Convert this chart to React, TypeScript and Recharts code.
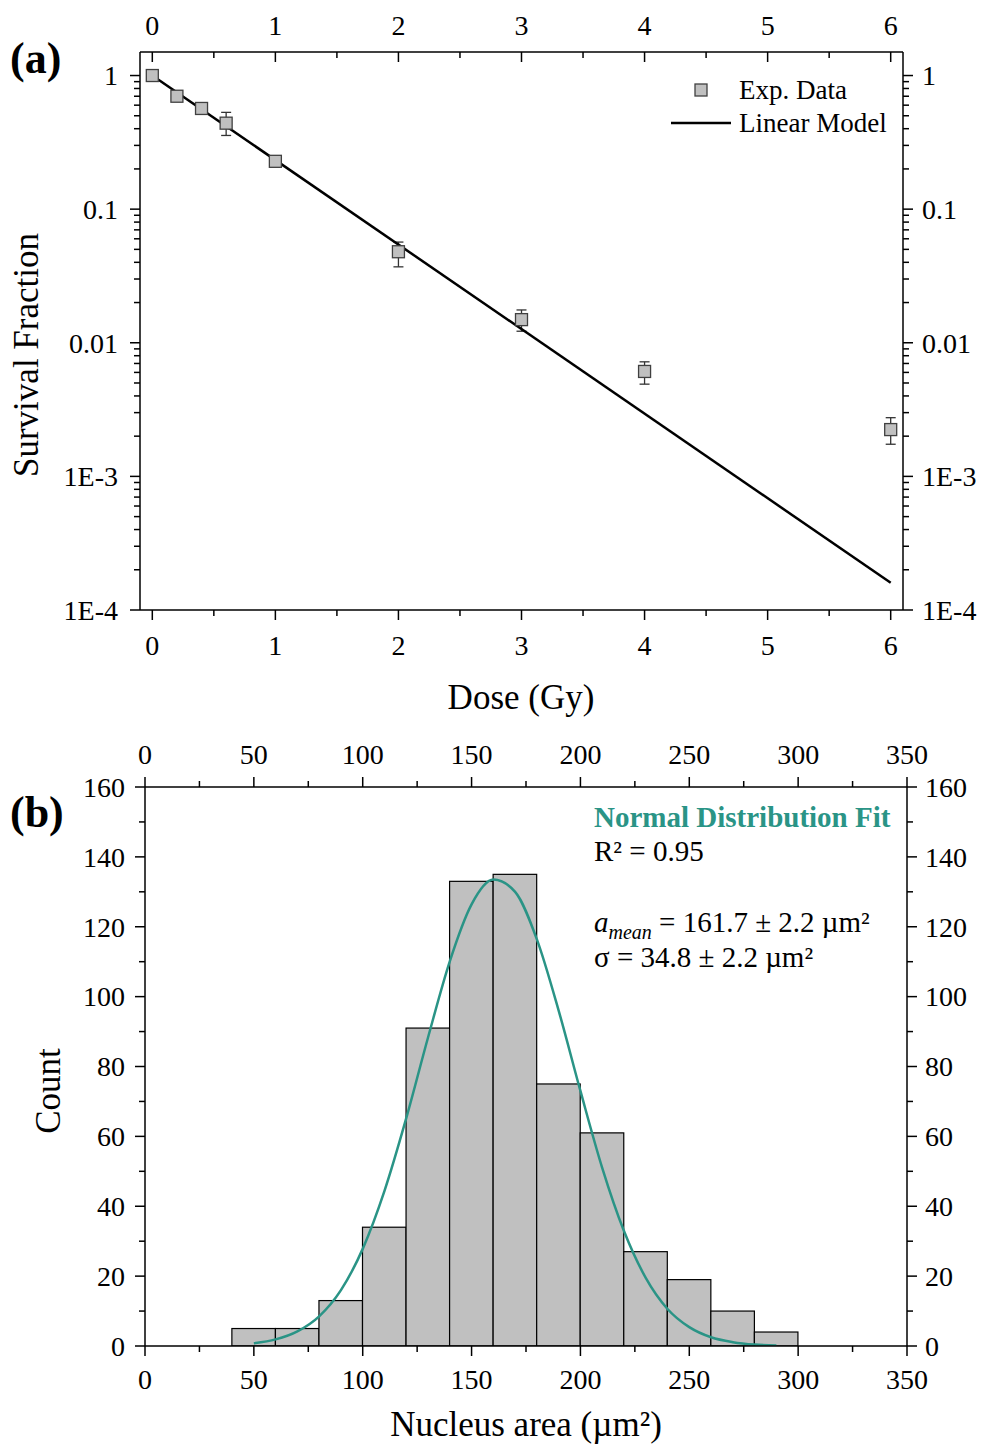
import React from 'react'
import { ComposedChart, Scatter, Line, Bar, XAxis, YAxis, ErrorBar } from 'recharts'

const FONT = '"Liberation Serif", "Times New Roman", serif'
const TEAL = '#2a9486'

// ---- (a) survival curve ----
const doses = [0, 0.2, 0.4, 0.6, 1, 2, 3, 4, 6]
const survival = [1.0, 0.7, 0.567, 0.44, 0.228, 0.048, 0.0149, 0.0061, 0.00224]
const errLow = [0, 0.02, 0.05, 0.084, 0.02, 0.011, 0.0027, 0.0012, 0.0005]
const errHigh = [0, 0.02, 0.05, 0.09, 0.02, 0.0087, 0.0027, 0.0011, 0.00051]
const modelDoses = [0, 6]
const modelSurvival = [1.0, 0.00016]

const doseTicks = [0, 0.5, 1, 1.5, 2, 2.5, 3, 3.5, 4, 4.5, 5, 5.5, 6]
const doseMajor = [0, 1, 2, 3, 4, 5, 6]
const sfTicks = [
  0.0001, 0.0002, 0.0003, 0.0004, 0.0005, 0.0006, 0.0007, 0.0008, 0.0009,
  0.001, 0.002, 0.003, 0.004, 0.005, 0.006, 0.007, 0.008, 0.009,
  0.01, 0.02, 0.03, 0.04, 0.05, 0.06, 0.07, 0.08, 0.09,
  0.1, 0.2, 0.3, 0.4, 0.5, 0.6, 0.7, 0.8, 0.9, 1,
]
const sfMajor = [0.0001, 0.001, 0.01, 0.1, 1]
const sfMajorLabels = ['1E-4', '1E-3', '0.01', '0.1', '1']

// ---- (b) nucleus area histogram ----
const binCenters = [50, 70, 90, 110, 130, 150, 170, 190, 210, 230, 250, 270, 290]
const binCounts = [5, 5, 13, 34, 91, 133, 135, 75, 61, 27, 19, 10, 4]
const BIN_WIDTH = 20
const fitArea = [50, 60, 70, 80, 90, 100, 110, 120, 130, 140, 150, 160, 170, 180, 190, 200, 210, 220, 230, 240, 250, 260, 270, 280, 290]
const fitCount = [0.8, 1.9, 4.2, 8.5, 16, 27.8, 44.4, 65.2, 88.3, 110.1, 126.4, 133.5, 130, 116.4, 96, 73, 51, 32.9, 19.5, 10.6, 5.4, 2.5, 1.1, 0.4, 0.15]

const areaTicks = [0, 25, 50, 75, 100, 125, 150, 175, 200, 225, 250, 275, 300, 325, 350]
const areaMajor = [0, 50, 100, 150, 200, 250, 300, 350]
const countTicks = [0, 10, 20, 30, 40, 50, 60, 70, 80, 90, 100, 110, 120, 130, 140, 150, 160]
const countMajor = [0, 20, 40, 60, 80, 100, 120, 140, 160]

const scatterData = doses.map((d, i) => ({ dose: d, sf: survival[i], err: [errLow[i], errHigh[i]] }))
const modelData = modelDoses.map((d, i) => ({ dose: d, sf: modelSurvival[i] }))
const histData = binCenters.map((x, i) => ({ x, count: binCounts[i] }))
const fitData = fitArea.map((x, i) => ({ x, fit: fitCount[i] }))

type Side = 'top' | 'bottom' | 'left' | 'right'

// draws tick line + label ourselves so we get minor ticks and inward/outward control
function AxisTick(props: any) {
  const { x, y, payload, side, inward, majors, labels, gap } = props
  const v = payload.value
  const idx = majors.findIndex((m: number) => Math.abs(m - v) < 1e-9)
  const isMajor = idx >= 0
  const len = isMajor ? 10 : 6
  const s: Side = side
  const out = inward ? -1 : 1
  let line
  let text = null
  if (s === 'bottom' || s === 'top') {
    const dir = s === 'bottom' ? out : -out
    line = <line x1={x} y1={y} x2={x} y2={y + dir * len} stroke="#000" strokeWidth={1.5} />
    if (isMajor) {
      text = (
        <text x={x} y={s === 'bottom' ? y + gap : y - gap} textAnchor="middle" fontSize={28} fontFamily={FONT} fill="#000">
          {labels ? labels[idx] : v}
        </text>
      )
    }
  } else {
    const dir = s === 'right' ? out : -out
    line = <line x1={x} y1={y} x2={x + dir * len} y2={y} stroke="#000" strokeWidth={1.5} />
    if (isMajor) {
      text = (
        <text x={s === 'right' ? x + gap : x - gap} y={y} dy="0.35em" textAnchor={s === 'right' ? 'start' : 'end'} fontSize={28} fontFamily={FONT} fill="#000">
          {labels ? labels[idx] : v}
        </text>
      )
    }
  }
  return (
    <g>
      {line}
      {text}
    </g>
  )
}

const axisLine = { stroke: '#000', strokeWidth: 1.5 }

function SurvivalChart() {
  return (
    <ComposedChart width={983} height={720} margin={{ top: 22, right: 20, bottom: 80, left: 80 }}>
      <XAxis
        xAxisId="b" dataKey="dose" type="number" domain={[-0.1, 6.1]} allowDataOverflow
        ticks={doseTicks} interval={0} height={30} tickSize={0} tickMargin={0} tickLine={false} axisLine={axisLine}
        tick={(p: any) => <AxisTick {...p} side="bottom" majors={doseMajor} gap={45} />}
      />
      <XAxis
        xAxisId="t" orientation="top" dataKey="dose" type="number" domain={[-0.1, 6.1]} allowDataOverflow
        ticks={doseTicks} interval={0} height={30} tickSize={0} tickMargin={0} tickLine={false} axisLine={axisLine}
        tick={(p: any) => <AxisTick {...p} side="top" inward majors={doseMajor} gap={17} />}
      />
      <YAxis
        yAxisId="l" scale="log" type="number" domain={[0.0001, 1.5]} allowDataOverflow
        ticks={sfTicks} interval={0} width={60} tickSize={0} tickMargin={0} tickLine={false} axisLine={axisLine}
        tick={(p: any) => <AxisTick {...p} side="left" majors={sfMajor} labels={sfMajorLabels} gap={22} />}
      />
      <YAxis
        yAxisId="r" orientation="right" scale="log" type="number" domain={[0.0001, 1.5]} allowDataOverflow
        ticks={sfTicks} interval={0} width={60} tickSize={0} tickMargin={0} tickLine={false} axisLine={axisLine}
        tick={(p: any) => <AxisTick {...p} side="right" majors={sfMajor} labels={sfMajorLabels} gap={19} />}
      />
      <Scatter
        xAxisId="b" yAxisId="l" data={scatterData} dataKey="sf" isAnimationActive={false}
        shape={(p: any) => <rect x={p.cx - 6} y={p.cy - 6} width={12} height={12} fill="#c0c0c0" stroke="#404040" strokeWidth={1.3} />}
      >
        <ErrorBar dataKey="err" direction="y" width={5} stroke="#333" strokeWidth={1.3} />
      </Scatter>
      <Line xAxisId="b" yAxisId="l" data={modelData} dataKey="sf" stroke="#000" strokeWidth={2.5} dot={false} isAnimationActive={false} />
    </ComposedChart>
  )
}

function HistogramChart() {
  const plotW = 983 - 85 - 60 - 16 - 60
  const binPx = (BIN_WIDTH * plotW) / 350
  // bins touch each other: keep the bar's centre from recharts, widen it to the full bin
  const binShape = (p: any) => {
    const cx = p.x + p.width / 2
    return <rect x={cx - binPx / 2} y={p.y} width={binPx} height={p.height} fill="#c0c0c0" stroke="#000" strokeWidth={1.2} />
  }
  return (
    <ComposedChart width={983} height={732} data={histData} margin={{ top: 37, right: 16, bottom: 76, left: 85 }}>
      <XAxis
        xAxisId="b" dataKey="x" type="number" domain={[0, 350]} allowDataOverflow
        ticks={areaTicks} interval={0} height={30} tickSize={0} tickMargin={0} tickLine={false} axisLine={axisLine}
        tick={(p: any) => <AxisTick {...p} side="bottom" majors={areaMajor} gap={43} />}
      />
      <XAxis
        xAxisId="t" orientation="top" dataKey="x" type="number" domain={[0, 350]} allowDataOverflow
        ticks={areaTicks} interval={0} height={30} tickSize={0} tickMargin={0} tickLine={false} axisLine={axisLine}
        tick={(p: any) => <AxisTick {...p} side="top" majors={areaMajor} gap={23} />}
      />
      <YAxis
        yAxisId="l" type="number" domain={[0, 160]} allowDataOverflow
        ticks={countTicks} interval={0} width={60} tickSize={0} tickMargin={0} tickLine={false} axisLine={axisLine}
        tick={(p: any) => <AxisTick {...p} side="left" majors={countMajor} gap={20} />}
      />
      <YAxis
        yAxisId="r" orientation="right" type="number" domain={[0, 160]} allowDataOverflow
        ticks={countTicks} interval={0} width={60} tickSize={0} tickMargin={0} tickLine={false} axisLine={axisLine}
        tick={(p: any) => <AxisTick {...p} side="right" majors={countMajor} gap={18} />}
      />
      <Bar xAxisId="b" yAxisId="l" dataKey="count" shape={binShape} isAnimationActive={false} />
      <Line xAxisId="b" yAxisId="l" data={fitData} dataKey="fit" type="monotone" stroke={TEAL} strokeWidth={2.5} dot={false} isAnimationActive={false} />
    </ComposedChart>
  )
}

export default function App() {
  return (
    <div style={{ position: 'absolute', left: 0, top: 0, width: 983, height: 1452, background: '#fff', fontFamily: FONT }}>
      <div style={{ position: 'absolute', left: 0, top: 0 }}>
        <SurvivalChart />
      </div>
      <div style={{ position: 'absolute', left: 0, top: 720 }}>
        <HistogramChart />
      </div>
      <svg width={983} height={1452} style={{ position: 'absolute', left: 0, top: 0, pointerEvents: 'none' }} fontFamily={FONT}>
        <text x={10} y={73} fontSize={44} fontWeight="bold">(a)</text>
        <text x={10} y={827} fontSize={44} fontWeight="bold">(b)</text>

        <text x={38} y={355} fontSize={35} textAnchor="middle" transform="rotate(-90 38 355)">Survival Fraction</text>
        <text x={521} y={709} fontSize={35} textAnchor="middle">Dose (Gy)</text>
        <text x={60} y={1091} fontSize={35} textAnchor="middle" transform="rotate(-90 60 1091)">Count</text>
        <text x={526} y={1436} fontSize={35} textAnchor="middle">Nucleus area (µm²)</text>

        {/* legend for (a) */}
        <rect x={695} y={84} width={12} height={12} fill="#c0c0c0" stroke="#404040" strokeWidth={1.3} />
        <text x={739} y={99} fontSize={27}>Exp. Data</text>
        <line x1={671} y1={123} x2={731} y2={123} stroke="#000" strokeWidth={2.5} />
        <text x={739} y={132} fontSize={27}>Linear Model</text>

        {/* fit annotation for (b) */}
        <text x={594} y={827} fontSize={29} fontWeight="bold" fill={TEAL}>Normal Distribution Fit</text>
        <text x={594} y={861} fontSize={29}>R² = 0.95</text>
        <text x={594} y={932} fontSize={29}>
          <tspan fontStyle="italic">a</tspan>
          <tspan fontStyle="italic" fontSize={20} dy={7}>mean</tspan>
          <tspan dy={-7}> = 161.7 ± 2.2 µm²</tspan>
        </text>
        <text x={594} y={967} fontSize={29}>σ = 34.8 ± 2.2 µm²</text>
      </svg>
    </div>
  )
}
